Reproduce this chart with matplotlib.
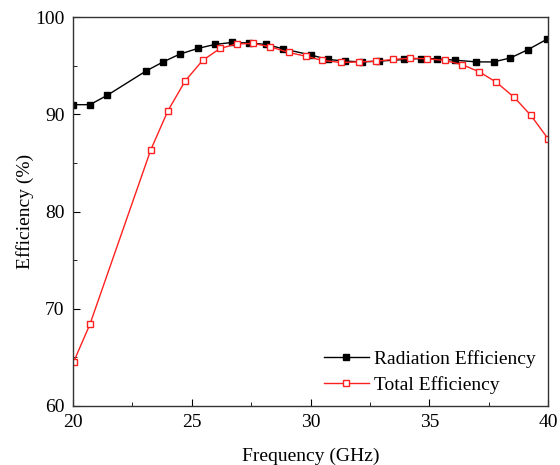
import matplotlib
matplotlib.use('Agg')
import matplotlib.pyplot as plt
from matplotlib.ticker import MultipleLocator

# values
freq_rad = [20.0, 20.72, 21.44, 23.07, 23.8, 24.5, 25.25, 25.98, 26.7, 27.4, 28.13,
            28.86, 30.03, 30.72, 31.47, 32.17, 32.9, 33.94, 34.63, 35.34, 36.06,
            36.98, 37.7, 38.4, 39.13, 39.95]
eff_rad = [91.0, 91.0, 91.95, 94.45, 95.4, 96.2, 96.78, 97.2, 97.4, 97.35, 97.2,
           96.74, 96.1, 95.66, 95.48, 95.4, 95.48, 95.65, 95.75, 95.72, 95.58,
           95.4, 95.4, 95.8, 96.64, 97.74]

freq_tot = [20.04, 20.72, 23.28, 24.0, 24.73, 25.46, 26.19, 26.9, 27.6, 28.3, 29.1,
            29.8, 30.5, 31.28, 32.03, 32.77, 33.49, 34.2, 34.92, 35.65, 36.37,
            37.1, 37.82, 38.57, 39.27, 39.99]
eff_tot = [64.56, 68.4, 86.35, 90.37, 93.45, 95.55, 96.78, 97.25, 97.3, 96.95, 96.37,
           95.98, 95.56, 95.34, 95.4, 95.48, 95.65, 95.78, 95.72, 95.55, 95.13,
           94.38, 93.3, 91.75, 89.9, 87.5]

plt.rcParams['font.family'] = ['Liberation Serif', 'DejaVu Serif']
plt.rcParams['font.size'] = 14

fig = plt.figure(figsize=(5.6, 4.65), dpi=100)
ax = fig.add_axes([0.130, 0.127, 0.849, 0.836])

ax.plot(freq_rad, eff_rad, color='black', lw=1.0, marker='s', ms=5,
        mfc='black', mec='black', label='Radiation Efficiency')
ax.plot(freq_tot, eff_tot, color='#ff2020', lw=1.0, marker='s', ms=5,
        mfc='white', mec='#ff2020', label='Total Efficiency')

ax.set_xlim(20, 40)
ax.set_ylim(60, 100)
ax.xaxis.set_major_locator(MultipleLocator(5))
ax.xaxis.set_minor_locator(MultipleLocator(2.5))
ax.yaxis.set_major_locator(MultipleLocator(10))
ax.yaxis.set_minor_locator(MultipleLocator(5))
ax.tick_params(which='both', direction='in', top=False, right=False, labelsize=14)
ax.tick_params(which='major', length=5, pad=6)
ax.tick_params(which='minor', length=3)
for s in ax.spines.values():
    s.set_linewidth(1.0)
    s.set_color('#333333')

ax.set_xlabel('Frequency (GHz)', fontsize=14, labelpad=12)
ax.set_ylabel('Efficiency (%)', fontsize=14, labelpad=1)

ax.legend(loc='lower right', frameon=False, fontsize=14, handlelength=2.3,
          handletextpad=0.3, borderaxespad=0.22, labelspacing=0.4)

fig.savefig('out.png', dpi=100)
